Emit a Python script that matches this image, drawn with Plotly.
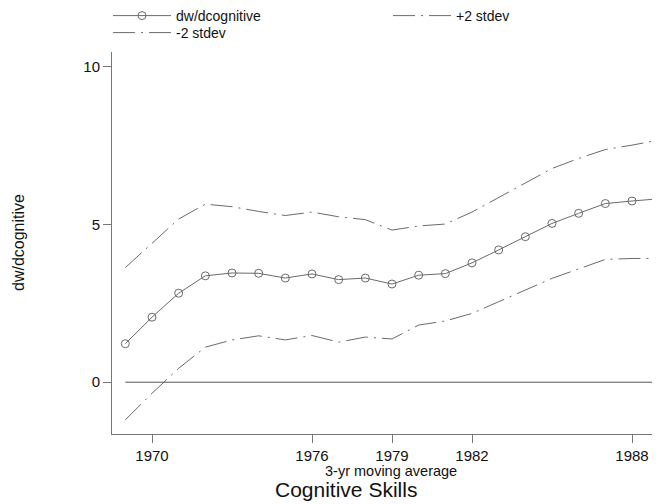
import plotly.graph_objects as go

years = list(range(1969, 1990))
dw_dcognitive = [1.22, 2.06, 2.82, 3.37, 3.46, 3.45, 3.30, 3.43, 3.25, 3.30,
                 3.11, 3.39, 3.44, 3.78, 4.19, 4.61, 5.03, 5.35, 5.66, 5.74, 5.81]
plus_2sd = [3.63, 4.40, 5.17, 5.64, 5.56, 5.41, 5.28, 5.39, 5.24, 5.15,
            4.82, 4.95, 5.01, 5.39, 5.85, 6.32, 6.77, 7.09, 7.37, 7.51, 7.67]
minus_2sd = [-1.19, -0.35, 0.44, 1.11, 1.34, 1.47, 1.34, 1.48, 1.27, 1.43,
             1.37, 1.81, 1.94, 2.18, 2.55, 2.92, 3.29, 3.59, 3.89, 3.92, 3.92]
zero_line = [0] * len(years)
x_ticks = [1970, 1976, 1979, 1982, 1988]
y_ticks = [0, 5, 10]

FONT = "Liberation Sans, Arial, sans-serif"
LINE = "#6a6a6a"
DASH = "22px,6px,2px,6px"
# the page body adds an 8px margin; size the figure to fill the rest of the window
OFF = 8
FIG_W, FIG_H = 660 - OFF, 504 - OFF
PLOT_L, PLOT_T, PLOT_B = 112 - OFF, 52 - OFF, 434 - OFF
PLOT_W = FIG_W - PLOT_L
PLOT_H = PLOT_B - PLOT_T


def px_x(img_x):
    return (img_x - OFF - PLOT_L) / PLOT_W


def px_y(img_y):
    return (PLOT_B - (img_y - OFF)) / PLOT_H


def leg_y(img_row_center):
    # legend row centre sits ~15px below the legend's top edge (paper coords)
    top = img_row_center - OFF - 15
    return 1 + (PLOT_T - top) / PLOT_H


fig = go.Figure()
fig.add_trace(go.Scatter(
    x=years, y=dw_dcognitive, name="dw/dcognitive", mode="lines+markers",
    line=dict(color=LINE, width=1),
    marker=dict(symbol="circle-open", size=8, color=LINE, line=dict(width=1)),
    legend="legend",
))
fig.add_trace(go.Scatter(
    x=years, y=plus_2sd, name="+2 stdev", mode="lines",
    line=dict(color=LINE, width=1, dash=DASH),
    legend="legend2",
))
fig.add_trace(go.Scatter(
    x=years, y=minus_2sd, name="-2 stdev", mode="lines",
    line=dict(color=LINE, width=1, dash=DASH),
    legend="legend3",
))
fig.add_trace(go.Scatter(
    x=years, y=zero_line, mode="lines", showlegend=False,
    line=dict(color="#555555", width=1), hoverinfo="skip",
))

legend_common = dict(
    orientation="v", xanchor="left", yanchor="top",
    yref="paper", xref="paper",
    itemwidth=58, tracegroupgap=0,
    font=dict(family=FONT, size=14, color="#111111"),
    bgcolor="rgba(0,0,0,0)", borderwidth=0,
)

fig.update_layout(
    width=FIG_W, height=FIG_H,
    margin=dict(l=PLOT_L, r=0, t=PLOT_T, b=FIG_H - PLOT_B, autoexpand=False),
    paper_bgcolor="white", plot_bgcolor="white",
    font=dict(family=FONT, size=14, color="#111111"),
    showlegend=True,
    legend=dict(x=px_x(108), y=leg_y(15), **legend_common),
    legend2=dict(x=px_x(388), y=leg_y(15), **legend_common),
    legend3=dict(x=px_x(108), y=leg_y(32), **legend_common),
    xaxis=dict(
        range=[1968.5, 1989.05], tickmode="array", tickvals=x_ticks,
        ticks="outside", ticklen=8, tickcolor="#777777",
        showline=True, linecolor="#777777", linewidth=1,
        showgrid=False, zeroline=False,
        tickfont=dict(family=FONT, size=15, color="#111111"),
    ),
    yaxis=dict(
        range=[-1.64, 10.46], tickmode="array", tickvals=y_ticks,
        ticks="outside", ticklen=8, tickcolor="#777777",
        showline=True, linecolor="#777777", linewidth=1,
        showgrid=False, zeroline=False,
        tickfont=dict(family=FONT, size=15, color="#111111"),
    ),
    annotations=[
        dict(text="dw/dcognitive", xref="paper", yref="paper",
             x=px_x(18), y=px_y(243), showarrow=False, textangle=-90,
             xanchor="center", yanchor="middle",
             font=dict(family=FONT, size=16, color="#111111")),
        dict(text="3-yr moving average", xref="paper", yref="paper",
             x=px_x(391), y=px_y(471), showarrow=False,
             xanchor="center", yanchor="middle",
             font=dict(family=FONT, size=14.5, color="#111111")),
        dict(text="Cognitive Skills", xref="paper", yref="paper",
             x=px_x(346), y=px_y(489), showarrow=False,
             xanchor="center", yanchor="middle",
             font=dict(family=FONT, size=21, color="#111111")),
    ],
)

fig.write_html("out.html")
